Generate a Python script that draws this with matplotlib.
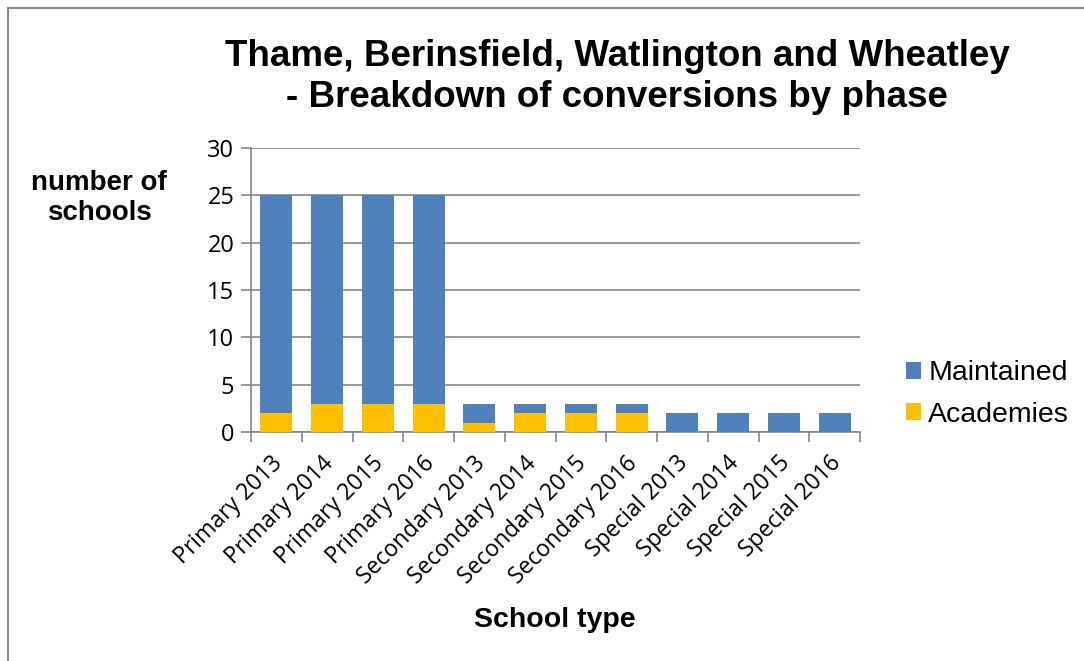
import numpy as np
import matplotlib
matplotlib.use('Agg')
import matplotlib.pyplot as plt
import matplotlib.transforms as mtransforms
from matplotlib.lines import Line2D

categories = ['Primary 2013', 'Primary 2014', 'Primary 2015', 'Primary 2016',
              'Secondary 2013', 'Secondary 2014', 'Secondary 2015', 'Secondary 2016',
              'Special 2013', 'Special 2014', 'Special 2015', 'Special 2016']
academies = [2, 3, 3, 3, 1, 2, 2, 2, 0, 0, 0, 0]
maintained = [23, 22, 22, 22, 2, 1, 1, 1, 2, 2, 2, 2]
y_ticks = [0, 5, 10, 15, 20, 25, 30]

BLUE = '#4F81BD'
GOLD = '#FFC000'
GRID = '#868686'
CAL = ['Open Sans', 'DejaVu Sans']  # stand-in for Calibri

plt.rcParams['font.family'] = ['Liberation Sans', 'DejaVu Sans']

fig = plt.figure(figsize=(10.84, 6.61), dpi=100)
ax = fig.add_axes([251/1084, 1 - 432/661, (860 - 251)/1084, (432 - 148)/661])

x = np.arange(len(categories))
ax.bar(x, academies, width=0.63, color=GOLD, label='Academies', zorder=3)
ax.bar(x, maintained, width=0.63, bottom=academies, color=BLUE, label='Maintained', zorder=3)

ax.set_xlim(-0.5, len(categories) - 0.5)
ax.set_ylim(0, 30)
ax.set_yticks(y_ticks)
ax.set_yticklabels([str(v) for v in y_ticks], family=CAL, fontsize=17)
ax.yaxis.grid(True, color=GRID, linewidth=1.2, zorder=0)
ax.tick_params(axis='y', length=7, width=1.2, color=GRID, pad=5)

ax.set_xticks(x)
ax.set_xticklabels(categories, rotation=45, ha='right', rotation_mode='anchor',
                   family=CAL, fontsize=16.5)
ax.set_xticks(np.arange(-0.5, len(categories)), minor=True)
ax.tick_params(axis='x', which='major', length=0, pad=14)
ax.tick_params(axis='x', which='minor', length=7, width=1.2, color=GRID)
shift = mtransforms.ScaledTranslation(-6/100, 0, fig.dpi_scale_trans)
for lbl in ax.get_xticklabels():
    lbl.set_transform(lbl.get_transform() + shift)

for s in ['top', 'right']:
    ax.spines[s].set_visible(False)
for s in ['left', 'bottom']:
    ax.spines[s].set_color(GRID)
    ax.spines[s].set_linewidth(1.2)

fig.text(617/1084, 1 - 77/661, 'Thame, Berinsfield, Watlington and Wheatley\n- Breakdown of conversions by phase',
         ha='center', va='center', fontsize=26.5, fontweight='bold', linespacing=1.25)
fig.text(99/1084, 1 - 198/661, 'number of\nschools', ha='center', va='center',
         fontsize=20, fontweight='bold', linespacing=1.22)
fig.text(555/1084, 1 - 620/661, 'School type', ha='center', va='center',
         fontsize=20.5, fontweight='bold')

handles, labels = ax.get_legend_handles_labels()
fig.legend(handles[::-1], labels[::-1], loc='center left', bbox_to_anchor=(880/1084, 1 - 394/661),
           frameon=False, fontsize=20.5, handlelength=0.55, handleheight=0.55,
           handletextpad=0.25, labelspacing=0.55)

# outer border of the chart area
fig.add_artist(Line2D([8/1084, 8/1084], [0, 1 - 8/661], color='#8C8C8C', linewidth=1.5))
fig.add_artist(Line2D([8/1084, 1], [1 - 8/661, 1 - 8/661], color='#8C8C8C', linewidth=1.5))

fig.savefig('out.png', dpi=100)
